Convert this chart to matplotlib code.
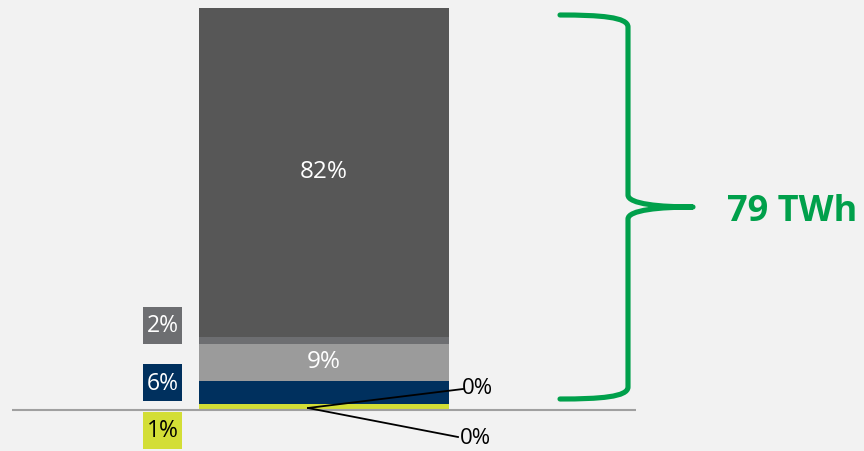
import matplotlib
matplotlib.use("Agg")
import matplotlib.pyplot as plt
from matplotlib.path import Path
from matplotlib.patches import PathPatch, Rectangle

# ---- data (shares of total, %, bottom to top) ----
segments = ["Zero A", "Zero B", "Yellow", "Navy", "Light grey", "Mid grey", "Dark grey"]
shares = [0.0, 0.0, 1.3, 5.8, 9.2, 1.7, 82.0]
labels = ["0%", "0%", "1%", "6%", "9%", "2%", "82%"]
colors = ["#D3DE36", "#D3DE36", "#D3DE36", "#00305E", "#9B9B9B", "#6D6E71", "#575757"]
total_label = "79 TWh"

W, H = 864, 451
BG = "#F2F2F2"
GREEN = "#00A04B"
FONT = ["Open Sans", "DejaVu Sans"]

fig = plt.figure(figsize=(W / 100, H / 100), dpi=100, facecolor=BG)

# main axes: bar in data coordinates
ax = fig.add_axes([0, 0, 1, 1], facecolor=BG)
px_per_unit_y = 401 / 100.0
base_px = 409
ax.set_ylim(-(H - base_px) / px_per_unit_y, base_px / px_per_unit_y)
bar_w_px = 250
center_px = 324
ax.set_xlim(-center_px / bar_w_px, (W - center_px) / bar_w_px)
ax.axis("off")

bottom = 0.0
bottoms = []
for s, c in zip(shares, colors):
    ax.bar(0, s, width=1.0, bottom=bottom, color=c, edgecolor="none", zorder=2)
    bottoms.append(bottom)
    bottom += s

# labels inside bar
for i in (4, 6):
    ax.text(0, bottoms[i] + shares[i] / 2, labels[i], color="white", fontsize=17.5,
            ha="center", va="center", family=FONT, zorder=3)

# overlay axes in pixel coordinates for annotations
ov = fig.add_axes([0, 0, 1, 1])
ov.set_xlim(0, W)
ov.set_ylim(H, 0)
ov.axis("off")
ov.patch.set_alpha(0)

# baseline
ov.plot([12, 636], [409.5, 409.5], color="#A0A0A0", lw=1.5, zorder=4,
        solid_capstyle="butt")

# side boxes
boxes = [(5, "#6D6E71", "white", 325.5), (3, "#00305E", "white", 382.5), (2, "#D3DE36", "black", 430)]
for idx, fc, tc, cy in boxes:
    ov.add_patch(Rectangle((143, cy - 18.5), 39, 37, facecolor=fc, edgecolor="none", zorder=3))
    ov.text(162.5, cy + 1, labels[idx], color=tc, fontsize=16.5, ha="center", va="center",
            family=FONT, zorder=4)

# leader lines for zero segments
origin = (308, 408)
ov.plot([origin[0], 463], [origin[1], 389], color="black", lw=1.3, zorder=5)
ov.plot([origin[0], 458], [origin[1], 437], color="black", lw=1.3, zorder=5)
ov.text(462, 389, labels[0], fontsize=16, ha="left", va="center", family=FONT, color="black")
ov.text(460, 438, labels[1], fontsize=16, ha="left", va="center", family=FONT, color="black")

# brace
verts = [(560, 15), (600, 15), (628, 17), (628, 27),
         (628, 195),
         (628, 204), (660, 207), (693, 207),
         (660, 207), (628, 210), (628, 219),
         (628, 387),
         (628, 397), (600, 399), (560, 399)]
codes = [Path.MOVETO, Path.CURVE4, Path.CURVE4, Path.CURVE4,
         Path.LINETO,
         Path.CURVE4, Path.CURVE4, Path.CURVE4,
         Path.CURVE4, Path.CURVE4, Path.CURVE4,
         Path.LINETO,
         Path.CURVE4, Path.CURVE4, Path.CURVE4]
ov.add_patch(PathPatch(Path(verts, codes), facecolor="none", edgecolor=GREEN, lw=3.7,
                       capstyle="round", joinstyle="round", zorder=5))

ov.text(727, 212, total_label, color=GREEN, fontsize=26, fontweight="bold", ha="left",
        va="center", family=FONT)

fig.savefig("out.png", dpi=100, facecolor=BG)
